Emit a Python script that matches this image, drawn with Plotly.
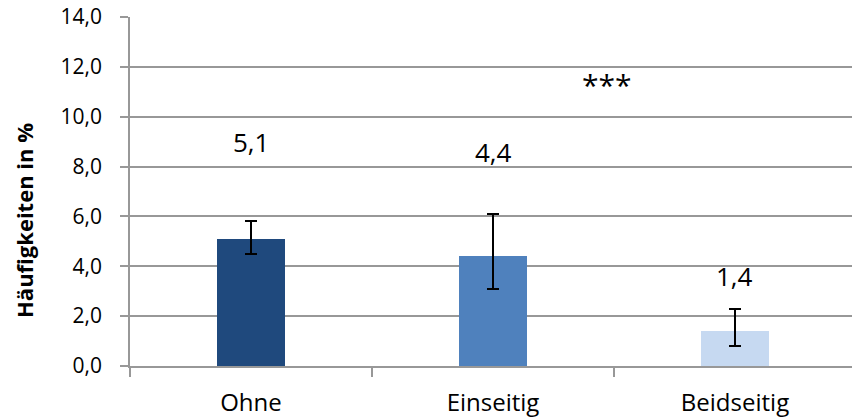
import plotly.graph_objects as go

# Data
categories = ["Ohne", "Einseitig", "Beidseitig"]
values = [5.1, 4.4, 1.4]
err_upper = [5.8, 6.1, 2.3]
err_lower = [4.5, 3.1, 0.8]
y_ticks = [0, 2, 4, 6, 8, 10, 12, 14]
significance = "***"
y_title = "Häufigkeiten in %"

colors = ["#1F497D", "#4F81BD", "#C6D9F1"]
label_y = [9.0, 8.6, 3.6]  # vertical placement of value labels

def de(v):
    return f"{v:.1f}".replace(".", ",")

fig = go.Figure()
fig.add_trace(go.Bar(
    x=categories,
    y=values,
    width=0.277,
    marker=dict(color=colors, line=dict(width=0)),
    error_y=dict(
        type="data",
        symmetric=False,
        array=[u - v for u, v in zip(err_upper, values)],
        arrayminus=[v - l for l, v in zip(err_lower, values)],
        color="black",
        thickness=2,
        width=6,
    ),
    showlegend=False,
))

font_family = "Open Sans, Liberation Sans, sans-serif"

for i, v in enumerate(values):
    fig.add_annotation(
        x=categories[i], y=label_y[i], text=de(v), showarrow=False,
        font=dict(family=font_family, size=26, color="black"),
        xanchor="center", yanchor="middle",
    )

fig.add_annotation(
    x=1.471, y=11.3, text=significance, showarrow=False,
    font=dict(family=font_family, size=30, color="black"),
    xanchor="center", yanchor="middle",
)

# Rotated y-axis title, placed slightly below the plot's vertical centre
fig.add_annotation(
    xref="paper", yref="paper", x=-0.147, y=0.418,
    text=f"<b>{y_title}</b>", textangle=-90, showarrow=False,
    font=dict(family=font_family, size=22, color="black"),
    xanchor="center", yanchor="middle",
)

fig.update_layout(
    width=852, height=418,
    margin=dict(l=130, r=0, t=17, b=52),
    paper_bgcolor="white",
    plot_bgcolor="white",
    font=dict(family=font_family, color="black"),
    bargap=0,
)
fig.update_xaxes(
    type="category",
    range=[-0.5, 2.4835],
    tickson="boundaries",
    ticks="outside", ticklen=9, tickcolor="#989898", tickwidth=1.5,
    showline=True, linecolor="#989898", linewidth=1.5,
    showgrid=False,
    ticklabelstandoff=14,
    tickfont=dict(size=24, family=font_family, color="black"),
)
fig.update_yaxes(
    range=[0, 14],
    tickvals=y_ticks,
    ticktext=[de(t) for t in y_ticks],
    ticks="outside", ticklen=8, tickcolor="#989898", tickwidth=1.5,
    showline=True, linecolor="#989898", linewidth=1.5,
    showgrid=True, gridcolor="#989898", gridwidth=1.5,
    zeroline=False,
    ticklabelstandoff=14,
    tickfont=dict(size=21, family=font_family, color="black"),
)

fig.write_html("out.html")
